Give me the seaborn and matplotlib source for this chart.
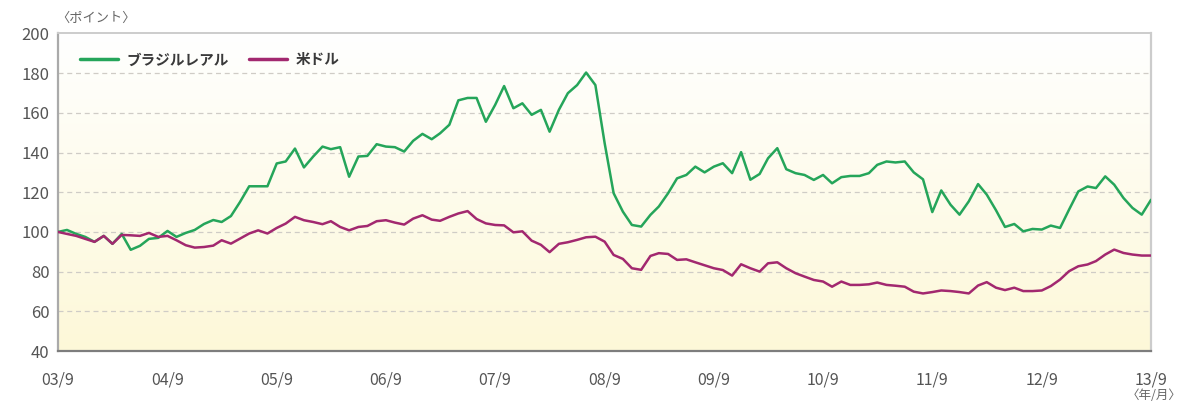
import numpy as np
import pandas as pd
import matplotlib
matplotlib.use("Agg")
import matplotlib.pyplot as plt
import seaborn as sns

# ---- data (index, 2003/9 = 100) ----
start_month = "2003-09"
brl = [100, 101, 99, 97.5, 95, 98, 94, 99, 91, 93,
       96.5, 97, 100.5, 97.5, 99.5, 101, 104, 106, 105, 108,
       115, 123, 123, 123, 134.5, 135.5, 142, 132.5, 138, 143,
       141.7, 142.7, 127.8, 138, 138.3, 144.2, 143, 142.7, 140.5, 145.9,
       149.4, 146.7, 149.7, 154, 166.3, 167.5, 167.5, 155.5, 164, 173.5,
       162.3, 164.8, 159, 161.5, 150.5, 161.5, 169.9, 174, 180.3, 174,
       144.7, 119.5, 110.2, 103.5, 102.7, 108.6, 112.8, 119.5, 127, 128.7,
       132.9, 130, 132.9, 134.6, 129.6, 140.2, 126.3, 129.2, 137.1, 142.2,
       131.6, 129.6, 128.7, 126.2, 128.7, 124.5, 127.6, 128.2, 128.2, 129.6,
       133.8, 135.5, 135, 135.5, 130, 126.5, 110, 120.9, 113.7, 108.7,
       115.4, 124.1, 118.8, 110.9, 102.5, 104, 100.3, 101.5, 101.2, 103.2,
       102, 111.2, 120.4, 122.9, 122.1, 128, 123.8, 117.1, 112.1, 108.7,
       116.2]
usd = [100, 99, 98, 96.5, 95, 98, 94, 98.5, 98.3, 98,
       99.5, 97.5, 98, 95.8, 93.3, 92.1, 92.4, 93.1, 95.8, 94.1,
       96.6, 99.2, 100.8, 99.2, 102, 104.2, 107.6, 105.9, 105, 103.9,
       105.4, 102.5, 100.8, 102.5, 103, 105.4, 105.9, 104.7, 103.7, 106.7,
       108.4, 106.2, 105.6, 107.6, 109.3, 110.5, 106.5, 104.3, 103.5, 103.3,
       99.8, 100.3, 95.6, 93.5, 89.8, 94, 94.8, 96, 97.3, 97.6,
       95.1, 88.4, 86.4, 81.7, 80.9, 87.9, 89.3, 88.9, 85.9, 86.2,
       84.7, 83.2, 81.7, 80.8, 78, 83.7, 81.7, 80, 84.2, 84.7,
       81.7, 79.2, 77.5, 75.8, 75, 72.4, 75, 73.3, 73.3, 73.6,
       74.5, 73.3, 72.9, 72.4, 69.9, 69, 69.7, 70.5, 70.2, 69.7,
       69, 73, 74.7, 71.9, 70.7, 71.9, 70.2, 70.2, 70.5, 72.7,
       76, 80.2, 82.7, 83.6, 85.3, 88.6, 91.1, 89.4, 88.6, 88.1,
       88.1]
series_names = ["ブラジルレアル", "米ドル"]
tick_labels = ["03/9", "04/9", "05/9", "06/9", "07/9", "08/9",
               "09/9", "10/9", "11/9", "12/9", "13/9"]
y_ticks = [40, 60, 80, 100, 120, 140, 160, 180, 200]

dates = pd.date_range(start_month, periods=len(brl), freq="MS")
df = pd.concat([
    pd.DataFrame({"date": dates, "value": brl, "series": series_names[0]}),
    pd.DataFrame({"date": dates, "value": usd, "series": series_names[1]}),
])

sns.set_theme(style="white")
plt.rcParams["font.family"] = ["Noto Sans CJK JP", "DejaVu Sans"]

fig = plt.figure(figsize=(11.86, 4.03), dpi=100)
ax = fig.add_axes([0.0489, 0.129, 0.9216, 0.788])

# background gradient (white top -> pale yellow bottom)
top = np.array([1.0, 1.0, 1.0])
bot = np.array([0xfd, 0xf8, 0xd8]) / 255.0
t = np.linspace(0, 1, 256)[:, None]
grad = (top * (1 - t) + bot * t)[:, None, :]
ax.imshow(grad, extent=[0, 1, 0, 1], transform=ax.transAxes,
          aspect="auto", zorder=0)

palette = {series_names[0]: "#25a55a", series_names[1]: "#a2286f"}
sns.lineplot(data=df, x="date", y="value", hue="series", palette=palette,
             linewidth=1.8, ax=ax, zorder=3)

ax.set_xlim(dates[0], dates[-1])
ax.set_ylim(40, 200)
tick_dates = dates[::12]
ax.set_xticks(tick_dates)
ax.set_xticklabels(tick_labels)
ax.set_yticks(y_ticks)
ax.set_yticklabels([str(v) for v in y_ticks])

for v in y_ticks[1:-1]:
    ax.axhline(v, color="#cfccc6", lw=0.9, ls=(0, (4, 3)), zorder=1)

ax.tick_params(axis="x", direction="in", length=7, width=1, color="#888888",
               pad=15, labelsize=11.5, labelcolor="#555555")
ax.tick_params(axis="y", length=0, pad=6, labelsize=12, labelcolor="#555555")

ax.spines["left"].set_color("#aaaaaa")
ax.spines["left"].set_linewidth(1.6)
ax.spines["bottom"].set_color("#7d7d7d")
ax.spines["bottom"].set_linewidth(1.6)
ax.spines["top"].set_color("#cccccc")
ax.spines["top"].set_linewidth(1.4)
ax.spines["right"].set_color("#cccccc")
ax.spines["right"].set_linewidth(1.6)

ax.set_xlabel("")
ax.set_ylabel("")

leg = ax.legend(loc="upper left", ncol=2, frameon=False, fontsize=10.5,
                handlelength=2.6, columnspacing=1.4, handletextpad=0.6,
                bbox_to_anchor=(0.008, 0.985))
for txt in leg.get_texts():
    txt.set_color("#3a3a3a")
    txt.set_fontweight("bold")
for h in leg.get_lines():
    h.set_linewidth(2.5)

fig.text(0.047, 0.955, "〈ポイント〉", fontsize=9.5, color="#666666",
         ha="left", va="center")
fig.text(0.996, 0.018, "〈年/月〉", fontsize=9, color="#666666",
         ha="right", va="center")

fig.savefig("out.png", dpi=100)
